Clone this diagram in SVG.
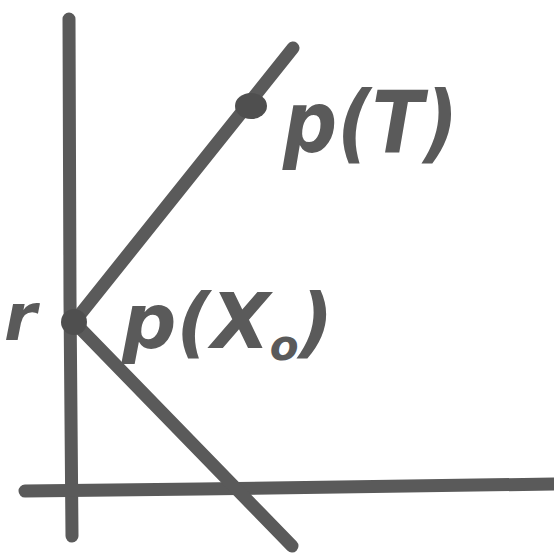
<svg xmlns="http://www.w3.org/2000/svg" width="554" height="554" viewBox="0 0 554 554">
<style>
.ln{stroke:#5a5a5a;stroke-width:13;stroke-linecap:round;fill:none}
.dot{fill:#4f4f4f}
.lbl{fill:#5a5a5a;font-family:"DejaVu Sans",sans-serif;font-weight:bold;font-style:italic}
</style>
<rect width="554" height="554" fill="#fff"/>
<g id="connectors">
<path class="ln" d="M69,19 L70,300 L72,536"/>
<path class="ln" d="M25,491 L200,489 L554,484"/>
<path class="ln" d="M74,322 L293,48"/>
<path class="ln" d="M74,322 L292,546"/>
</g>
<g id="point-r"><circle class="dot" cx="74" cy="322" r="13"/></g>
<g id="point-T"><ellipse class="dot" cx="251" cy="106" rx="16" ry="13"/></g>
<g id="label-T"><text class="lbl" x="283" y="152" font-size="86" textLength="175" lengthAdjust="spacingAndGlyphs">p(T)</text></g>
<g id="label-r"><text class="lbl" x="4" y="340" font-size="66">r</text></g>
<g id="label-X0"><text class="lbl" x="122" y="348" font-size="76">p(X<tspan font-size="42" dy="12">o</tspan><tspan dy="-12">)</tspan></text></g>
</svg>
